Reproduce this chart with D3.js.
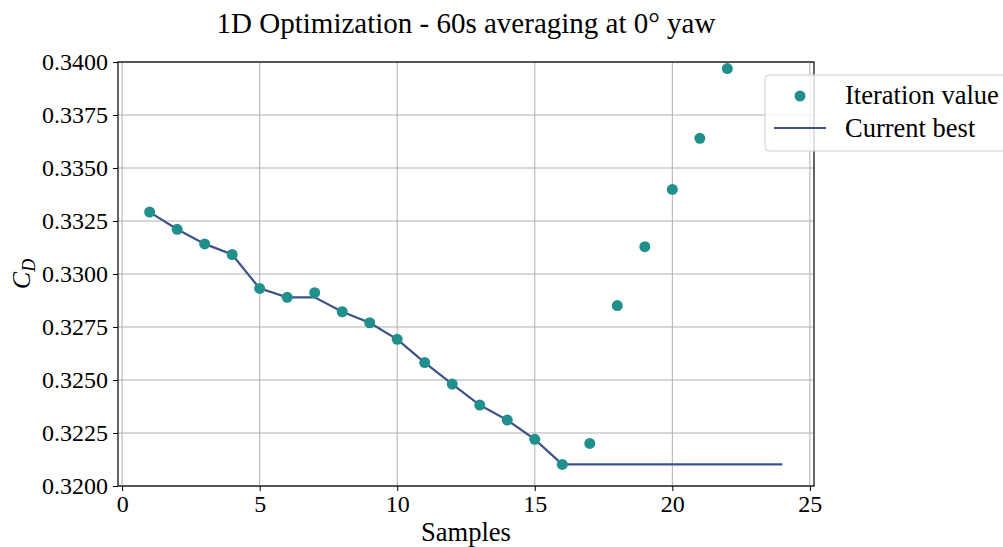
<!DOCTYPE html>
<html><head><meta charset="utf-8">
<script src="https://cdn.jsdelivr.net/npm/d3@7"></script>
<style>
body{margin:0;background:#fff;}
text{font-family:"Liberation Serif","DejaVu Serif",serif;fill:#000;}
</style></head>
<body><svg id="c" width="1003" height="547"></svg>
<script>
const samples = [1,2,3,4,5,6,7,8,9,10,11,12,13,14,15,16,17,18,19,20,21,22];
const iterValues = [0.33292,0.33211,0.33142,0.33092,0.32932,0.32890,0.32912,0.32822,0.32770,0.32692,0.32582,0.32481,0.32382,0.32311,0.32220,0.32102,0.32201,0.32851,0.33129,0.33399,0.33640,0.33969];
const bestSamples = [1,2,3,4,5,6,7,8,9,10,11,12,13,14,15,16,17,18,19,20,21,22,23,24];
const bestValues = [0.33292,0.33211,0.33142,0.33092,0.32932,0.32890,0.32890,0.32822,0.32770,0.32692,0.32582,0.32481,0.32382,0.32311,0.32220,0.32102,0.32102,0.32102,0.32102,0.32102,0.32102,0.32102,0.32102,0.32102];
const xTicks = [0,5,10,15,20,25];
const yTicks = [0.3200,0.3225,0.3250,0.3275,0.3300,0.3325,0.3350,0.3375,0.3400];
const title = "1D Optimization - 60s averaging at 0° yaw";
const legendLabels = ["Iteration value","Current best"];

const svg = d3.select("#c");
const L=118, R=814, T=62, B=486;
const x = d3.scaleLinear().domain([-0.15,25.15]).range([L,R]);
const y = d3.scaleLinear().domain([0.32,0.34]).range([B,T]);
const dotColor="#21908d", lineColor="#3b528b", fs=24, fw=26.5;

// grid
const g = svg.append("g");
g.selectAll(".gx").data(xTicks).join("line").attr("x1",d=>x(d)).attr("x2",d=>x(d)).attr("y1",T).attr("y2",B).attr("stroke","#b0b0b0").attr("stroke-width",1);
g.selectAll(".gy").data(yTicks).join("line").attr("x1",L).attr("x2",R).attr("y1",d=>y(d)).attr("y2",d=>y(d)).attr("stroke","#b0b0b0").attr("stroke-width",1);

// axes
const xa = svg.append("g").attr("transform",`translate(0,${B})`).call(d3.axisBottom(x).tickValues(xTicks).tickSize(5).tickPadding(4).tickFormat(d3.format("d")));
const ya = svg.append("g").attr("transform",`translate(${L},0)`).call(d3.axisLeft(y).tickValues(yTicks).tickSize(5).tickPadding(5).tickFormat(d3.format(".4f")));
[xa,ya].forEach(a=>{a.select(".domain").remove();a.selectAll("text").style("font-size",fs+"px").attr("font-family",null);a.selectAll("line").attr("stroke","#000");});
svg.append("rect").attr("x",L).attr("y",T).attr("width",R-L).attr("height",B-T).attr("fill","none").attr("stroke","#000").attr("stroke-width",1.2);

// line
svg.append("path").datum(bestSamples.map((s,i)=>[s,bestValues[i]]))
  .attr("d",d3.line().x(d=>x(d[0])).y(d=>y(d[1]))).attr("fill","none").attr("stroke",lineColor).attr("stroke-width",2.2);
// dots
svg.selectAll(".dot").data(samples.map((s,i)=>[s,iterValues[i]])).join("circle")
  .attr("cx",d=>x(d[0])).attr("cy",d=>y(d[1])).attr("r",5.5).attr("fill",dotColor);

// title & labels
svg.append("text").attr("x",(L+R)/2).attr("y",33).attr("text-anchor","middle").style("font-size","29px").text(title);
svg.append("text").attr("x",(L+R)/2).attr("y",541).attr("text-anchor","middle").style("font-size",fw+"px").text("Samples");
const yl = svg.append("text").attr("transform","translate(30,274) rotate(-90)").attr("text-anchor","middle").style("font-size","26px");
yl.append("tspan").attr("font-style","italic").text("C");
yl.append("tspan").attr("font-style","italic").attr("dy",5).style("font-size","18px").text("D");

// legend
const lg = svg.append("g");
lg.append("rect").attr("x",765).attr("y",75).attr("width",250).attr("height",76).attr("rx",4).attr("fill","rgba(255,255,255,0.8)").attr("stroke","#cccccc").attr("stroke-width",1);
lg.append("circle").attr("cx",800).attr("cy",96).attr("r",5.5).attr("fill",dotColor);
lg.append("line").attr("x1",774).attr("x2",826).attr("y1",128).attr("y2",128).attr("stroke",lineColor).attr("stroke-width",2.2);
lg.selectAll(".lt").data(legendLabels).join("text").attr("x",845).attr("y",(d,i)=>104+i*33).style("font-size",fw+"px").text(d=>d);
</script></body></html>
